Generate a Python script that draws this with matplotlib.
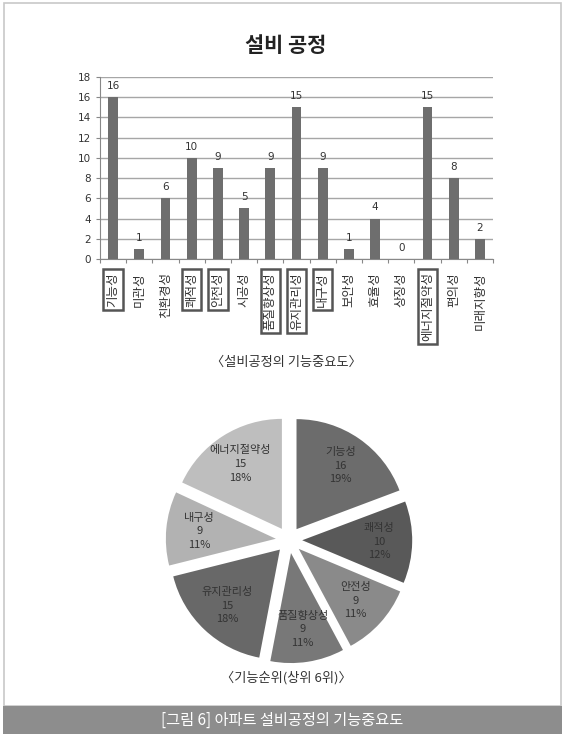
import matplotlib.pyplot as plt
from matplotlib.patches import Rectangle

plt.rcParams['font.family'] = ['Noto Sans CJK KR', 'DejaVu Sans']

# bar chart data
items = ['기능성', '미관성', '친환경성', '쾌적성', '안전성', '시공성', '품질향상성',
         '유지관리성', '내구성', '보안성', '효율성', '상징성', '에너지절약성', '편의성', '미래지향성']
counts = [16, 1, 6, 10, 9, 5, 9, 15, 9, 1, 4, 0, 15, 8, 2]
boxed = ['기능성', '쾌적성', '안전성', '품질향상성', '유지관리성', '내구성', '에너지절약성']

# pie data (top 6 + ties), clockwise from top
top_items = ['기능성', '쾌적성', '안전성', '품질향상성', '유지관리성', '내구성', '에너지절약성']
top_counts = [16, 10, 9, 9, 15, 9, 15]
pie_colors = ['#6c6c6c', '#595959', '#8a8a8a', '#787878', '#686868', '#b2b2b2', '#bebebe']

fig = plt.figure(figsize=(5.65, 7.34), dpi=100)

# page frame + bottom banner
fig.patches.append(Rectangle((4/565, 1-706/734), 557/565, 703/734, transform=fig.transFigure,
                             fill=False, ec='#c8c8c8', lw=1.2))
fig.patches.append(Rectangle((3/565, 0), 559/565, 28/734, transform=fig.transFigure,
                             fc='#8d8d8d', ec='none'))
fig.text(0.5, 1-720/734, '[그림 6] 아파트 설비공정의 기능중요도', ha='center', va='center',
         color='white', fontsize=11)

fig.text(0.505, 1-45/734, '설비 공정', ha='center', va='center', fontsize=15, fontweight='bold',
         color='#222222')

# bar chart
ax = fig.add_axes([100/565, 1-259/734, 393/565, 182/734])
x = list(range(len(items)))
ax.bar(x, counts, width=0.38, color='#6e6e6e', zorder=3)
for xi, c in zip(x, counts):
    ax.text(xi, c + 0.6, str(c), ha='center', va='bottom', fontsize=7.5, color='#333333',
            family='DejaVu Sans')
ax.set_ylim(0, 18)
ax.set_xlim(-0.5, len(items) - 0.5)
ax.set_yticks(range(0, 19, 2))
ax.tick_params(axis='y', labelsize=7.5, length=3, color='#888888', labelcolor='#333333')
for t in ax.get_yticklabels():
    t.set_family('DejaVu Sans')
ax.yaxis.grid(True, color='#a6a6a6', lw=1)
ax.set_axisbelow(True)
ax.set_xticks([i + 0.5 for i in x[:-1]] + [-0.5, len(items) - 0.5])
ax.set_xticklabels([])
ax.tick_params(axis='x', length=3, color='#888888', direction='out')
for s in ['top', 'right']:
    ax.spines[s].set_visible(False)
ax.spines['left'].set_color('#888888')
ax.spines['bottom'].set_color('#888888')
for xi, name in zip(x, items):
    kw = {}
    if name in boxed:
        kw['bbox'] = dict(boxstyle='square,pad=0.25', fc='none', ec='#555555', lw=1.8)
    ax.text(xi, -1.3, name, rotation=90, ha='center', va='top', fontsize=9,
            color='#333333', **kw)

fig.text(0.507, 1-362/734, '〈설비공정의 기능중요도〉', ha='center', va='center', fontsize=9.5,
         color='#333333')

# pie chart
ax2 = fig.add_axes([157/565, 1-672/734, 264/565, 264/734])
total = sum(top_counts)
labels = [f'{n}\n{v}\n{round(v / total * 100)}%' for n, v in zip(top_items, top_counts)]
wedges, texts = ax2.pie(top_counts, labels=labels, colors=pie_colors, startangle=90,
                        counterclock=False, explode=[0.12] * len(top_counts),
                        labeldistance=0.7, textprops=dict(fontsize=8, color='#333333',
                                                          ha='center', va='center',
                                                          linespacing=1.45))
ax2.set_xlim(-1.2, 1.2)
ax2.set_ylim(-1.2, 1.2)
ax2.set_aspect('equal')

fig.text(0.507, 1-678/734, '〈기능순위(상위 6위)〉', ha='center', va='center', fontsize=9.5,
         color='#333333')

fig.savefig('out.png', dpi=100)
